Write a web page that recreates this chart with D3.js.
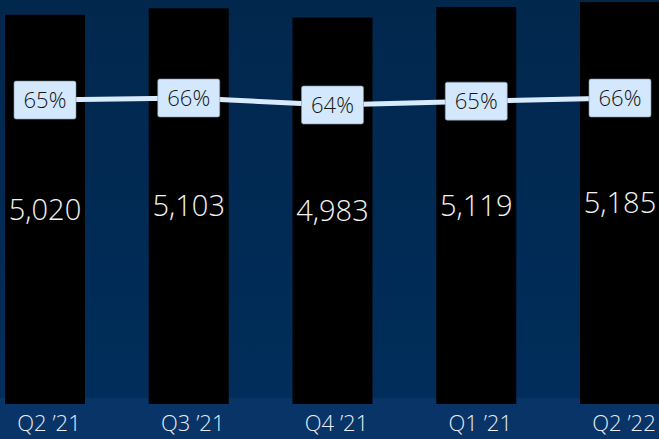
<!DOCTYPE html>
<html><head><meta charset="utf-8">
<script src="https://cdn.jsdelivr.net/npm/d3@7/dist/d3.min.js"></script>
<style>
html,body{margin:0;padding:0;background:#022b55;overflow:hidden}
svg{display:block}
</style></head>
<body>
<svg id="chart" width="659" height="439"></svg>
<script>
const categories = ["Q2 \u201921", "Q3 \u201921", "Q4 \u201921", "Q1 \u201921", "Q2 \u201922"];
const barValues = [5020, 5103, 4983, 5119, 5185];
const barLabels = ["5,020", "5,103", "4,983", "5,119", "5,185"];
const pctValues = [65.4, 66.0, 64.0, 65.1, 66.0];
const pctLabels = ["65%", "66%", "64%", "65%", "66%"];

const W = 659, H = 439;
const svg = d3.select("#chart");
const font = "'Open Sans', Lato, sans-serif";

const defs = svg.append("defs");
const g = defs.append("linearGradient").attr("id","bg").attr("x1",0).attr("y1",0).attr("x2",0).attr("y2",1);
g.append("stop").attr("offset","0%").attr("stop-color","#02274d");
g.append("stop").attr("offset","100%").attr("stop-color","#002e5c");
svg.append("rect").attr("width",W).attr("height",H).attr("fill","url(#bg)");
svg.append("rect").attr("x",0).attr("y",398).attr("width",W).attr("height",H-398).attr("fill","#083467");

const x = d3.scaleBand().domain(categories).range([5, 660]).paddingInner(0.4435).paddingOuter(0);
const y = d3.scaleLinear().domain([0, 5210]).range([404, 0]);
const y2 = d3.scaleLinear().domain([64, 66]).range([105, 98]);

svg.selectAll("rect.bar").data(categories).join("rect").attr("class","bar")
  .attr("x", d => x(d)).attr("width", x.bandwidth())
  .attr("y", (d,i) => y(barValues[i])).attr("height", (d,i) => y(0) - y(barValues[i]))
  .attr("fill", "#000");

svg.selectAll("text.val").data(categories).join("text").attr("class","val")
  .attr("x", d => x(d) + x.bandwidth()/2)
  .attr("y", (d,i) => (y(barValues[i]) + y(0))/2)
  .attr("dy","0.35em").attr("text-anchor","middle")
  .attr("fill","#f2f2f2").attr("font-family",font).attr("font-weight",300).attr("font-size",29)
  .text((d,i) => barLabels[i]);

const line = d3.line().x(d => x(d.c) + x.bandwidth()/2).y(d => y2(d.v));
const pts = categories.map((c,i) => ({c, v: pctValues[i], l: pctLabels[i]}));
svg.append("path").datum(pts).attr("d", line).attr("fill","none")
  .attr("stroke","#d8ebfd").attr("stroke-width",5);

const bw = 62, bh = 38;
const boxes = svg.selectAll("g.pct").data(pts).join("g").attr("class","pct")
  .attr("transform", d => `translate(${x(d.c) + x.bandwidth()/2},${y2(d.v)})`);
boxes.append("rect").attr("x",-bw/2).attr("y",-bh/2).attr("width",bw).attr("height",bh)
  .attr("rx",2).attr("fill","#d3e8fc").attr("stroke","#7f93a8").attr("stroke-width",0.6);
boxes.append("text").attr("text-anchor","middle").attr("dy","0.36em")
  .attr("fill","#151515").attr("font-family",font).attr("font-weight",300).attr("font-size",22)
  .text(d => d.l);

svg.selectAll("text.cat").data(categories).join("text").attr("class","cat")
  .attr("x", d => x(d) + x.bandwidth()/2 + 4).attr("y", 431)
  .attr("text-anchor","middle").attr("fill","#e6edf5")
  .attr("font-family",font).attr("font-weight",300).attr("font-size",22)
  .text(d => d);
</script>
</body></html>
